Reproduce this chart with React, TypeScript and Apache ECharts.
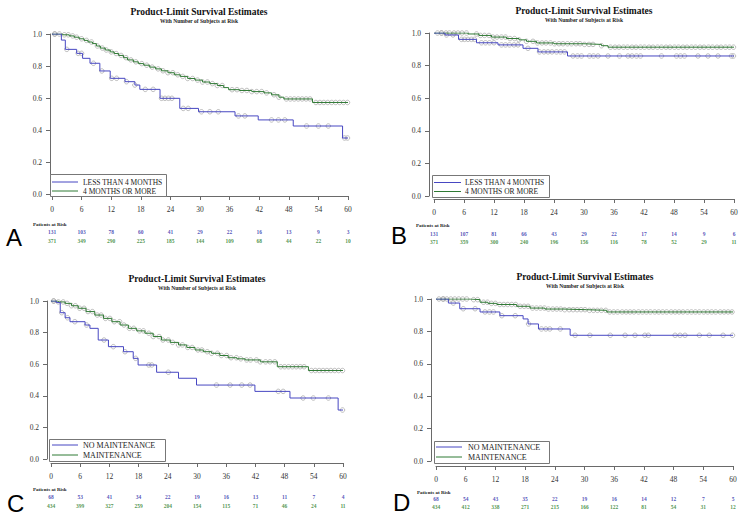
import React, { useEffect, useRef } from "react";
import * as echarts from "echarts";

// ---------- data ----------
const MONTHS = [0, 6, 12, 18, 24, 30, 36, 42, 48, 54, 60];

const TITLE = "Product-Limit Survival Estimates";
const SUBTITLE = "With Number of Subjects at Risk";
const RISK_LABEL = "Patients at Risk";
const GROUPS_AB = ["LESS THAN 4 MONTHS", "4 MONTHS OR MORE"];
const GROUPS_CD = ["NO MAINTENANCE", "MAINTENANCE"];

// Panel A
const A_BLUE: [number, number][] = [[0, 1], [1.9, 0.962], [2.7, 0.904], [5.0, 0.879], [6.2, 0.848], [7.7, 0.817], [9.7, 0.769], [11.8, 0.723], [14.8, 0.702], [16.8, 0.681], [17.8, 0.654], [21.9, 0.598], [25.9, 0.535], [29.7, 0.514], [37.1, 0.488], [41.8, 0.463], [48.9, 0.425], [58.9, 0.35], [60, 0.35]];
const A_GREEN: [number, number][] = [[0, 1], [2.2, 0.995], [3.5, 0.988], [4.5, 0.98], [5.5, 0.97], [6.5, 0.96], [7.3, 0.95], [8.2, 0.94], [9.0, 0.925], [9.8, 0.912], [10.8, 0.9], [11.8, 0.888], [12.6, 0.878], [13.5, 0.866], [14.5, 0.852], [15.3, 0.838], [16.5, 0.826], [17.5, 0.815], [18.6, 0.805], [19.8, 0.793], [21, 0.782], [22.2, 0.77], [23.5, 0.758], [24.8, 0.745], [26, 0.735], [27.5, 0.722], [29, 0.712], [30.5, 0.7], [32, 0.69], [33.5, 0.678], [34.8, 0.665], [35.8, 0.652], [38, 0.647], [40.5, 0.64], [43, 0.632], [44.5, 0.62], [46, 0.605], [47, 0.594], [52.8, 0.572], [60, 0.572]];
const A_BLUE_CENS = [0.6, 3.0, 5.3, 6.0, 8.4, 10.1, 12.1, 13.1, 15.1, 16.8, 18.9, 20.5, 22.2, 22.9, 23.6, 24.3, 26.6, 27.6, 30.3, 32.0, 33.7, 37.8, 39.1, 44.5, 45.9, 47.2, 51.6, 54.0, 56.0, 59.3, 59.9];
const A_GREEN_CENS = [0.5, 1.5, 2.5, 3.3, 4.2, 5.0, 6.0, 7.0, 8.0, 9.2, 10.2, 11.0, 12.0, 13.0, 14.0, 15.0, 16.0, 17.0, 18.2, 19.2, 20.3, 21.5, 22.5, 23.5, 24.5, 25.5, 26.5, 27.5, 28.5, 29.5, 30.5, 31.5, 32.5, 33.5, 34.5, 36.5, 37.5, 38.5, 39.5, 40.5, 41.5, 42.5, 43.5, 45.0, 46.0, 47.5, 48.3, 49.1, 49.9, 50.7, 51.5, 52.3, 53.5, 54.3, 55.1, 55.9, 56.7, 57.5, 58.3, 59.1, 59.9];
const A_RISK_BLUE = [131, 103, 78, 60, 41, 29, 22, 16, 13, 9, 3];
const A_RISK_GREEN = [371, 349, 290, 225, 185, 144, 109, 68, 44, 22, 10];

// Panel B
const B_BLUE: [number, number][] = [[0, 1], [2.2, 0.988], [4.9, 0.961], [8.5, 0.94], [12.8, 0.927], [17.8, 0.906], [20.8, 0.884], [26.7, 0.859], [60, 0.859]];
const B_GREEN: [number, number][] = [[0, 1], [6.8, 0.994], [9, 0.985], [11.5, 0.975], [14.5, 0.966], [17, 0.958], [18.5, 0.949], [20.5, 0.939], [24, 0.934], [30, 0.93], [33.5, 0.922], [34.8, 0.913], [60, 0.913]];
const B_BLUE_CENS = [1.5, 2.5, 3.8, 5.5, 6.1, 6.8, 7.5, 8.1, 9.5, 10.3, 11.1, 12.0, 13.5, 14.3, 15.1, 16.0, 16.8, 18.8, 21.1, 22.0, 22.8, 23.6, 24.5, 25.3, 26.1, 27.8, 28.7, 29.5, 31.1, 31.9, 32.8, 34.8, 37.1, 38.8, 39.6, 40.5, 41.3, 45.5, 48.5, 49.3, 50.1, 52.8, 54.8, 56.8, 59.5, 59.9];
const B_GREEN_CENS = [0.7, 1.5, 2.4, 3.1, 4.0, 4.8, 5.6, 6.5, 8.5, 9.3, 10.1, 11.0, 11.8, 12.6, 13.5, 14.3, 15.2, 16.1, 17.0, 18.5, 19.8, 20.7, 21.6, 22.4, 23.3, 24.1, 25.0, 25.8, 26.7, 27.5, 28.4, 29.2, 30.1, 31.0, 31.8, 33.5, 35.3, 36.2, 37.0, 37.9, 38.7, 39.6, 40.4, 41.3, 42.1, 43.0, 43.8, 44.7, 45.5, 46.4, 47.2, 48.1, 48.9, 49.8, 50.6, 51.5, 52.3, 53.2, 54.0, 54.9, 55.7, 56.6, 57.4, 58.3, 59.1, 59.9];
const B_RISK_BLUE = [131, 107, 81, 66, 43, 29, 22, 17, 14, 9, 6];
const B_RISK_GREEN = [371, 359, 300, 240, 196, 156, 116, 78, 52, 29, 11];

// Panel C
const C_BLUE: [number, number][] = [[0, 1], [1.1, 0.99], [1.9, 0.926], [2.9, 0.894], [3.9, 0.869], [7, 0.848], [8, 0.827], [9.7, 0.753], [11.8, 0.711], [14.9, 0.679], [16.9, 0.637], [17.9, 0.595], [21.7, 0.549], [26.2, 0.511], [29.9, 0.468], [41.9, 0.428], [49.1, 0.386], [59, 0.31], [60, 0.31]];
const C_GREEN: [number, number][] = [[0, 1], [1.5, 0.994], [2.9, 0.985], [4.2, 0.97], [5.6, 0.954], [7.2, 0.933], [9.0, 0.911], [10.8, 0.89], [12.5, 0.869], [14.2, 0.848], [15.9, 0.827], [17.6, 0.811], [19.3, 0.796], [21, 0.775], [22.7, 0.753], [24.5, 0.738], [26.2, 0.722], [27.9, 0.706], [29.6, 0.69], [31.3, 0.679], [33, 0.669], [34.7, 0.655], [36.4, 0.641], [38.2, 0.634], [39.9, 0.627], [43, 0.615], [46.5, 0.584], [52.9, 0.56], [60, 0.56]];
const C_BLUE_CENS = [0.5, 2.2, 3.4, 4.9, 7.3, 10.9, 12.8, 15.2, 17.4, 20.1, 20.7, 24.1, 34.0, 36.8, 39.2, 40.9, 46.7, 47.7, 51.8, 53.9, 57.0, 59.9];
const C_GREEN_CENS = [0.6, 1.5, 2.5, 3.3, 4.2, 5.0, 5.9, 6.8, 7.6, 8.5, 9.5, 10.3, 11.2, 12.1, 13.0, 14.1, 15.0, 16.1, 17.0, 18.2, 19.0, 20.1, 21.0, 22.2, 23.0, 24.1, 25.0, 26.2, 27.0, 28.1, 29.0, 30.2, 31.0, 32.1, 33.0, 34.2, 35.0, 36.1, 37.0, 38.1, 39.0, 40.2, 41.0, 42.2, 43.0, 44.1, 45.0, 46.0, 47.2, 48.0, 48.8, 49.6, 50.4, 51.2, 52.0, 53.5, 54.3, 55.1, 55.9, 56.7, 57.5, 58.3, 59.1, 59.9];
const C_RISK_BLUE = [68, 53, 41, 34, 22, 19, 16, 13, 11, 7, 4];
const C_RISK_GREEN = [434, 399, 327, 259, 204, 154, 115, 71, 46, 24, 11];

// Panel D
const D_BLUE: [number, number][] = [[0, 1], [2.5, 0.975], [4.8, 0.94], [8.9, 0.92], [12.9, 0.897], [17.6, 0.877], [18.6, 0.846], [20.7, 0.815], [27.1, 0.776], [60, 0.776]];
const D_GREEN: [number, number][] = [[0, 1], [6.9, 0.996], [8.9, 0.98], [10.5, 0.973], [12.3, 0.966], [16.3, 0.955], [19, 0.944], [22, 0.938], [25.7, 0.934], [30.4, 0.93], [34.5, 0.92], [60, 0.92]];
const D_BLUE_CENS = [1.5, 3.5, 5.5, 7.9, 9.9, 10.8, 11.6, 13.3, 16.0, 18.7, 21.3, 22.2, 23.0, 25.1, 28.1, 31.1, 35.2, 38.2, 40.2, 42.2, 42.9, 48.3, 49.3, 50.3, 53.2, 55.2, 58.0, 59.9];
const D_GREEN_CENS = [0.6, 1.4, 2.2, 3.0, 3.8, 4.6, 5.4, 6.2, 7.6, 8.4, 9.6, 10.4, 11.2, 12.0, 12.9, 13.7, 14.5, 15.3, 16.1, 17.0, 17.8, 18.6, 19.5, 20.3, 21.1, 21.9, 22.7, 23.6, 24.4, 25.2, 26.0, 26.9, 27.7, 28.5, 29.3, 30.1, 31.0, 31.8, 32.6, 33.4, 34.3, 35.1, 35.9, 36.7, 37.6, 38.4, 39.2, 40.0, 40.9, 41.7, 42.5, 43.3, 44.2, 45.0, 45.8, 46.6, 47.5, 48.3, 49.1, 49.9, 50.8, 51.6, 52.4, 53.2, 54.1, 54.9, 55.7, 56.5, 57.4, 58.2, 59.0, 59.8];
const D_RISK_BLUE = [68, 54, 43, 35, 22, 19, 16, 14, 12, 7, 5];
const D_RISK_GREEN = [434, 412, 338, 271, 215, 166, 122, 81, 54, 31, 12];

// ---------- styling / layout ----------
const BLUE = "#4747c2";
const GREEN = "#2f7a34";
const BLUE_TXT = "#1f1fa8";
const GREEN_TXT = "#1e7a24";
const CENS = "#9a9a9a";
const AXIS = "#6a6a6a";
const SERIF = "'Liberation Serif', 'DejaVu Serif', serif";
const SANS = "'Liberation Sans', Arial, sans-serif";

const PANELS = [
  {
    letter: "A", blue: A_BLUE, green: A_GREEN, blueCens: A_BLUE_CENS, greenCens: A_GREEN_CENS,
    riskBlue: A_RISK_BLUE, riskGreen: A_RISK_GREEN, groups: GROUPS_AB,
    grid: { left: 52, top: 34, width: 296, height: 160 }, xOff: 2, yOff: 2,
    risk: { top: 232, height: 9 }, title: [199, 12], sub: [199, 21], par: [33, 224], let: [6, 237],
    leg: { x: 50, y: 174, w: 116, h: 22, r1: 182, r2: 191, lx1: 52, lx2: 78, tx: 83, fs: 7.5 },
  },
  {
    letter: "B", blue: B_BLUE, green: B_GREEN, blueCens: B_BLUE_CENS, greenCens: B_GREEN_CENS,
    riskBlue: B_RISK_BLUE, riskGreen: B_RISK_GREEN, groups: GROUPS_AB,
    grid: { left: 434, top: 33, width: 300, height: 163 }, xOff: 3, yOff: 5,
    risk: { top: 234, height: 8 }, title: [584, 11], sub: [584, 20], par: [416, 225], let: [391, 235],
    leg: { x: 432, y: 175, w: 117, h: 22, r1: 182.5, r2: 191.5, lx1: 434, lx2: 461, tx: 465, fs: 7.5 },
  },
  {
    letter: "C", blue: C_BLUE, green: C_GREEN, blueCens: C_BLUE_CENS, greenCens: C_GREEN_CENS,
    riskBlue: C_RISK_BLUE, riskGreen: C_RISK_GREEN, groups: GROUPS_CD,
    grid: { left: 51, top: 301, width: 292, height: 158 }, xOff: 4, yOff: 4,
    risk: { top: 497, height: 9 }, title: [197, 279], sub: [197, 288], par: [33, 489], let: [7, 503],
    leg: { x: 49, y: 439, w: 116, h: 22, r1: 445, r2: 455, lx1: 52, lx2: 78, tx: 83, fs: 8 },
  },
  {
    letter: "D", blue: D_BLUE, green: D_GREEN, blueCens: D_BLUE_CENS, greenCens: D_GREEN_CENS,
    riskBlue: D_RISK_BLUE, riskGreen: D_RISK_GREEN, groups: GROUPS_CD,
    grid: { left: 436, top: 299, width: 297, height: 162 }, xOff: 5, yOff: 5,
    risk: { top: 499, height: 8 }, title: [585, 277], sub: [585, 286], par: [417, 492], let: [393, 502],
    leg: { x: 434, y: 441, w: 115, h: 22, r1: 447, r2: 457, lx1: 436, lx2: 462, tx: 468, fs: 8 },
  },
];

function surv(steps: [number, number][], t: number): number {
  let s = steps[0][1];
  for (const [ti, si] of steps) {
    if (ti <= t) s = si;
  }
  return s;
}

function txt(text: string, x: number, y: number, font: string, fill: string, align = "left") {
  return {
    type: "text", x, y, silent: true,
    style: { text, font, fill, align, verticalAlign: "middle", textAlign: align, textVerticalAlign: "middle" },
  };
}

function buildOption() {
  const grid: any[] = [];
  const xAxis: any[] = [];
  const yAxis: any[] = [];
  const series: any[] = [];
  const graphic: any[] = [];

  PANELS.forEach((p, i) => {
    const gi = i * 2;
    const ri = i * 2 + 1;
    grid.push({ ...p.grid, containLabel: false });
    grid.push({ left: p.grid.left, width: p.grid.width, top: p.risk.top, height: p.risk.height, containLabel: false });

    xAxis.push({
      gridIndex: gi, type: "value", min: 0, max: 60, interval: 6, offset: p.xOff,
      axisLine: { show: true, onZero: false, lineStyle: { color: AXIS, width: 1 } },
      axisTick: { show: true, length: 4, lineStyle: { color: AXIS } },
      axisLabel: { fontSize: 7.5, fontFamily: SERIF, color: "#333", margin: 9 },
      splitLine: { show: false },
    });
    xAxis.push({ gridIndex: ri, type: "value", min: 0, max: 60, show: false });
    yAxis.push({
      gridIndex: gi, type: "value", min: 0, max: 1, interval: 0.2, offset: p.yOff,
      axisLine: { show: true, onZero: false, lineStyle: { color: AXIS, width: 1 } },
      axisTick: { show: true, length: 4, lineStyle: { color: AXIS } },
      axisLabel: { fontSize: 7.5, fontFamily: SERIF, color: "#333", margin: 8, formatter: (v: number) => v.toFixed(1) },
      splitLine: { show: false },
    });
    yAxis.push({ gridIndex: ri, type: "value", min: 0, max: 1, show: false });

    const cens = (times: number[], steps: [number, number][]) => ({
      type: "scatter", xAxisIndex: gi, yAxisIndex: gi, silent: true, z: 2,
      data: times.map((t) => [t, surv(steps, t)]),
      symbol: "circle", symbolSize: 4.5,
      itemStyle: { color: "rgba(0,0,0,0)", borderColor: CENS, borderWidth: 0.8 },
    });
    series.push(cens(p.greenCens, p.green));
    series.push(cens(p.blueCens, p.blue));
    series.push({
      type: "line", xAxisIndex: gi, yAxisIndex: gi, data: p.green, step: "end",
      symbol: "none", showSymbol: false, silent: true, z: 3, lineStyle: { color: GREEN, width: 1 },
    });
    series.push({
      type: "line", xAxisIndex: gi, yAxisIndex: gi, data: p.blue, step: "end",
      symbol: "none", showSymbol: false, silent: true, z: 3, lineStyle: { color: BLUE, width: 1 },
    });
    const risk = (vals: number[], yv: number, color: string) => ({
      type: "scatter", xAxisIndex: ri, yAxisIndex: ri, silent: true,
      data: MONTHS.map((m, k) => [m, yv, vals[k]]),
      symbolSize: 1, itemStyle: { color: "rgba(0,0,0,0)" },
      label: {
        show: true, position: "inside", formatter: (q: any) => String(q.value[2]),
        fontSize: 5.5, fontWeight: "bold", fontFamily: SERIF, color,
      },
    });
    series.push(risk(p.riskBlue, 1, BLUE_TXT));
    series.push(risk(p.riskGreen, 0, GREEN_TXT));

    graphic.push(txt(TITLE, p.title[0], p.title[1], `bold 9.5px ${SERIF}`, "#111", "center"));
    graphic.push(txt(SUBTITLE, p.sub[0], p.sub[1], `bold 5.5px ${SERIF}`, "#222", "center"));
    graphic.push(txt(RISK_LABEL, p.par[0], p.par[1], `bold 5px ${SERIF}`, "#222", "left"));
    graphic.push(txt(p.letter, p.let[0], p.let[1], `24px ${SANS}`, "#000", "left"));
    const L = p.leg;
    graphic.push({
      type: "rect", silent: true,
      shape: { x: L.x + 0.5, y: L.y + 0.5, width: L.w, height: L.h },
      style: { fill: "#fff", stroke: "#777", lineWidth: 1 }, z: 10,
    });
    graphic.push({ type: "line", silent: true, z: 11, shape: { x1: L.lx1, y1: L.r1, x2: L.lx2, y2: L.r1 }, style: { stroke: BLUE, lineWidth: 1 } });
    graphic.push({ type: "line", silent: true, z: 11, shape: { x1: L.lx1, y1: L.r2, x2: L.lx2, y2: L.r2 }, style: { stroke: GREEN, lineWidth: 1 } });
    graphic.push({ ...txt(p.groups[0], L.tx, L.r1, `${L.fs}px ${SERIF}`, "#222", "left"), z: 11 });
    graphic.push({ ...txt(p.groups[1], L.tx, L.r2, `${L.fs}px ${SERIF}`, "#222", "left"), z: 11 });
  });

  return { animation: false, backgroundColor: "#fff", grid, xAxis, yAxis, series, graphic };
}

export default function App() {
  const ref = useRef<HTMLDivElement>(null);
  useEffect(() => {
    document.body.style.margin = "0";
    if (!ref.current) return;
    const chart = echarts.init(ref.current, undefined, { renderer: "svg" });
    chart.setOption(buildOption() as any);
    return () => chart.dispose();
  }, []);
  return <div ref={ref} style={{ width: 750, height: 527 }} />;
}
